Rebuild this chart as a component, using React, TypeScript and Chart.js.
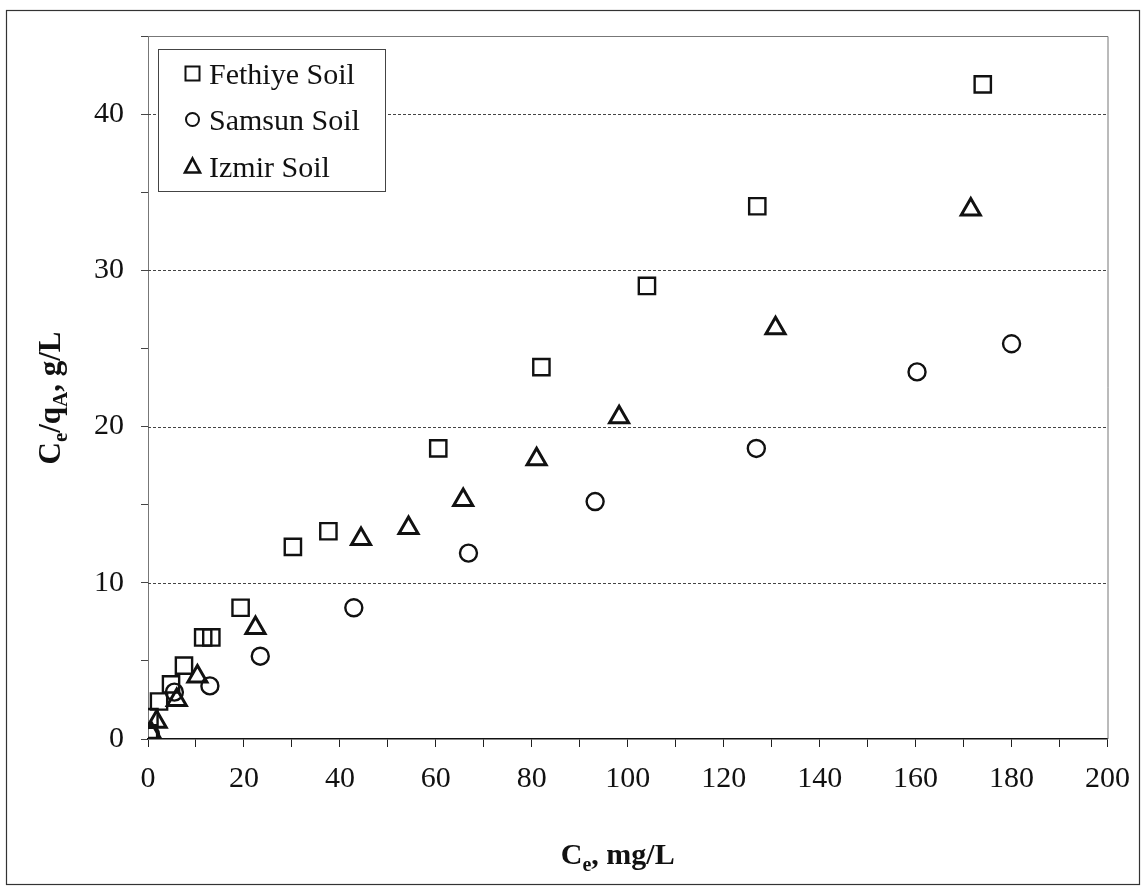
import React, { useEffect, useRef } from 'react';
import { Chart, registerables } from 'chart.js';

Chart.register(...registerables);

// Equilibrium concentration Ce (mg/L) and Ce/qA (g/L) for each soil
const fethiyeCe = [0.2, 0.3, 2.3, 4.8, 7.5, 11.5, 13.2, 19.3, 30.2, 37.6, 60.5, 82.0, 104.0, 127.0, 174.0];
const fethiyeRatio = [0.2, 1.4, 2.4, 3.5, 4.7, 6.5, 6.5, 8.4, 12.3, 13.3, 18.6, 23.8, 29.0, 34.1, 41.9];

const samsunCe = [0.5, 5.5, 12.9, 23.4, 42.9, 66.8, 93.2, 126.8, 160.3, 180.0];
const samsunRatio = [0.3, 3.0, 3.4, 5.3, 8.4, 11.9, 15.2, 18.6, 23.5, 25.3];

const izmirCe = [0.6, 1.8, 6.0, 10.3, 22.4, 44.4, 54.3, 65.7, 81.0, 98.2, 130.8, 171.5];
const izmirRatio = [0.4, 1.1, 2.5, 4.0, 7.1, 12.8, 13.5, 15.3, 17.9, 20.6, 26.3, 33.9];

const seriesNames = ['Fethiye Soil', 'Samsun Soil', 'Izmir Soil'];
const xTickStep = 10;
const xLabelStep = 20;
const yTickStep = 5;
const yLabelStep = 10;
const yGridValues = [10, 20, 30, 40];

const SERIF = '"Liberation Serif", "Times New Roman", serif';

const toPoints = (xs: number[], ys: number[]) => xs.map((x, i) => ({ x, y: ys[i] }));

type Part = [string, boolean];

function drawRich(ctx: CanvasRenderingContext2D, parts: Part[], cx: number, cy: number, size: number) {
  const subSize = Math.round(size * 0.68);
  const widths = parts.map(([t, sub]) => {
    ctx.font = `bold ${sub ? subSize : size}px ${SERIF}`;
    return ctx.measureText(t).width;
  });
  const total = widths.reduce((a, b) => a + b, 0);
  let x = cx - total / 2;
  ctx.textAlign = 'left';
  ctx.textBaseline = 'alphabetic';
  const base = cy + size * 0.33;
  parts.forEach(([t, sub], i) => {
    ctx.font = `bold ${sub ? subSize : size}px ${SERIF}`;
    ctx.fillText(t, x, sub ? base + size * 0.22 : base);
    x += widths[i];
  });
}

function legendMarker(ctx: CanvasRenderingContext2D, kind: number, x: number, y: number) {
  ctx.save();
  ctx.strokeStyle = '#111';
  ctx.beginPath();
  if (kind === 0) {
    ctx.lineWidth = 2;
    ctx.rect(x - 7, y - 7, 14, 14);
  } else if (kind === 1) {
    ctx.lineWidth = 2;
    ctx.arc(x, y, 6.5, 0, Math.PI * 2);
  } else {
    ctx.lineWidth = 2.6;
    ctx.moveTo(x, y - 8);
    ctx.lineTo(x + 7.5, y + 6);
    ctx.lineTo(x - 7.5, y + 6);
    ctx.closePath();
  }
  ctx.stroke();
  ctx.restore();
}

const decorPlugin = {
  id: 'decor',
  beforeDraw(chart: any) {
    const { ctx, width, height } = chart;
    ctx.save();
    ctx.fillStyle = '#fff';
    ctx.fillRect(0, 0, width, height);
    ctx.restore();
  },
  beforeDatasetsDraw(chart: any) {
    const { ctx, chartArea, scales } = chart;
    ctx.save();
    ctx.strokeStyle = '#444';
    ctx.lineWidth = 1;
    ctx.setLineDash([3, 2]);
    yGridValues.forEach((v) => {
      const y = Math.round(scales.y.getPixelForValue(v)) + 0.5;
      ctx.beginPath();
      ctx.moveTo(chartArea.left, y);
      ctx.lineTo(chartArea.right, y);
      ctx.stroke();
    });
    ctx.setLineDash([]);
    // top and right edges of the plot area
    ctx.strokeStyle = '#777';
    ctx.beginPath();
    ctx.moveTo(chartArea.left, chartArea.top + 0.5);
    ctx.lineTo(chartArea.right + 0.5, chartArea.top + 0.5);
    ctx.lineTo(chartArea.right + 0.5, chartArea.bottom);
    ctx.stroke();
    ctx.restore();
  },
  afterDraw(chart: any) {
    const { ctx, chartArea } = chart;
    ctx.save();
    // outer frame
    ctx.strokeStyle = '#333';
    ctx.lineWidth = 1.2;
    ctx.strokeRect(6.5, 10.5, 1133, 874);

    // legend
    const lx = 158.5, ly = 49.5, lw = 227, lh = 142;
    ctx.fillStyle = '#fff';
    ctx.fillRect(lx, ly, lw, lh);
    ctx.strokeStyle = '#444';
    ctx.lineWidth = 1;
    ctx.strokeRect(lx, ly, lw, lh);
    const baselines = [84, 130, 177];
    ctx.fillStyle = '#111';
    ctx.font = `30px ${SERIF}`;
    ctx.textAlign = 'left';
    ctx.textBaseline = 'alphabetic';
    seriesNames.forEach((name, i) => {
      legendMarker(ctx, i, 192.5, baselines[i] - 10.5);
      ctx.fillText(name, 209, baselines[i]);
    });

    // axis titles
    const cx = (chartArea.left + chartArea.right) / 2 - 10;
    drawRich(ctx, [['C', false], ['e', true], [', mg/L', false]], cx, 854, 30);
    ctx.translate(50, 398);
    ctx.rotate(-Math.PI / 2);
    drawRich(ctx, [['C', false], ['e', true], ['/q', false], ['A', true], [', g/L', false]], 0, 0, 31);
    ctx.restore();
  },
};

export default function App() {
  const canvasRef = useRef<HTMLCanvasElement | null>(null);

  useEffect(() => {
    document.body.style.margin = '0';
    const canvas = canvasRef.current;
    if (!canvas) return;
    const tickFont = { family: SERIF, size: 30 };
    const chart = new Chart(canvas, {
      type: 'scatter',
      data: {
        datasets: [
          {
            label: seriesNames[0],
            data: toPoints(fethiyeCe, fethiyeRatio),
            pointStyle: 'rect',
            pointRadius: 11.5,
            borderColor: '#111',
            backgroundColor: 'rgba(0,0,0,0)',
            borderWidth: 2.4,
          },
          {
            label: seriesNames[1],
            data: toPoints(samsunCe, samsunRatio),
            pointStyle: 'circle',
            pointRadius: 8.5,
            borderColor: '#111',
            backgroundColor: 'rgba(0,0,0,0)',
            borderWidth: 2.4,
          },
          {
            label: seriesNames[2],
            data: toPoints(izmirCe, izmirRatio),
            pointStyle: 'triangle',
            pointRadius: 11,
            borderColor: '#111',
            backgroundColor: 'rgba(0,0,0,0)',
            borderWidth: 3,
          },
        ],
      },
      options: {
        responsive: false,
        animation: false,
        devicePixelRatio: 1,
        layout: { padding: { top: 36, right: 34, left: 0, bottom: 0 } },
        plugins: {
          legend: { display: false },
          tooltip: { enabled: false },
        },
        scales: {
          x: {
            type: 'linear',
            position: 'bottom',
            min: 0,
            max: 200,
            afterFit: (s: any) => {
              s.height = 152;
            },
            ticks: {
              stepSize: xTickStep,
              autoSkip: false,
              maxRotation: 0,
              padding: 14,
              color: '#111',
              font: tickFont,
              callback: (v: any) => (Number(v) % xLabelStep === 0 ? String(v) : ''),
            },
            grid: { drawOnChartArea: false, drawTicks: true, tickLength: 8, color: '#222' },
            border: { color: '#111', width: 1.5 },
          },
          y: {
            type: 'linear',
            min: 0,
            max: 45,
            afterFit: (s: any) => {
              s.width = 148;
            },
            ticks: {
              stepSize: yTickStep,
              autoSkip: false,
              padding: 17,
              color: '#111',
              font: tickFont,
              callback: (v: any) => (Number(v) % yLabelStep === 0 ? String(v) : ''),
            },
            grid: { drawOnChartArea: false, drawTicks: true, tickLength: 7, color: '#444' },
            border: { color: '#777', width: 1 },
          },
        },
      },
      plugins: [decorPlugin],
    } as any);
    return () => chart.destroy();
  }, []);

  return (
    <div style={{ width: 1144, height: 891 }}>
      <canvas ref={canvasRef} width={1144} height={891} style={{ display: 'block' }} />
    </div>
  );
}
